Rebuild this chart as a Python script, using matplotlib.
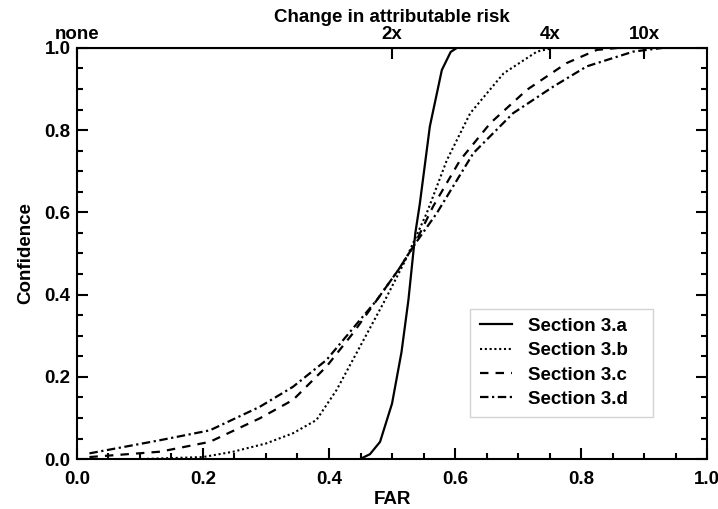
import matplotlib
matplotlib.use("Agg")
import matplotlib.pyplot as plt
from matplotlib.ticker import MultipleLocator

# ==================== DATA ====================
far_a = [0.0, 0.30, 0.449, 0.465, 0.481, 0.50, 0.515, 0.526, 0.537, 0.544, 0.560, 0.579, 0.593, 0.603, 0.65, 1.0]
conf_a = [0.0, 0.0, 0.0, 0.012, 0.042, 0.135, 0.26, 0.387, 0.55, 0.62, 0.809, 0.946, 0.99, 1.0, 1.0, 1.0]

far_b = [0.02, 0.10, 0.20, 0.248, 0.30, 0.343, 0.380, 0.412, 0.449, 0.489, 0.52, 0.555, 0.587, 0.624, 0.677, 0.730, 0.756, 0.80, 1.0]
conf_b = [0.0, 0.0, 0.005, 0.018, 0.038, 0.063, 0.095, 0.168, 0.273, 0.387, 0.48, 0.598, 0.727, 0.841, 0.938, 0.991, 1.0, 1.0, 1.0]

far_c = [0.02, 0.132, 0.211, 0.290, 0.343, 0.396, 0.438, 0.476, 0.51, 0.535, 0.565, 0.608, 0.656, 0.714, 0.777, 0.825, 0.86, 1.0]
conf_c = [0.005, 0.018, 0.042, 0.099, 0.144, 0.225, 0.306, 0.387, 0.46, 0.52, 0.614, 0.727, 0.817, 0.898, 0.963, 0.995, 1.0, 1.0]

far_d = [0.02, 0.132, 0.211, 0.290, 0.343, 0.396, 0.449, 0.476, 0.51, 0.535, 0.571, 0.629, 0.692, 0.756, 0.809, 0.883, 0.93, 1.0]
conf_d = [0.014, 0.046, 0.07, 0.127, 0.176, 0.241, 0.338, 0.387, 0.46, 0.52, 0.598, 0.744, 0.841, 0.906, 0.955, 0.991, 1.0, 1.0]

labels = ["Section 3.a", "Section 3.b", "Section 3.c", "Section 3.d"]
risk_ticks = [0.0, 0.5, 0.75, 0.9]
risk_labels = ["none", "2x", "4x", "10x"]
# ==============================================

FS = 13.5

plt.rcParams["font.family"] = ["Liberation Sans", "DejaVu Sans"]
plt.rcParams["font.weight"] = "bold"

fig = plt.figure(figsize=(7.18, 5.09), dpi=100)
ax = fig.add_axes([0.107, 0.098, 0.878, 0.808])

ax.plot(far_a, conf_a, color="black", lw=1.6, linestyle="-", label=labels[0])
ax.plot(far_b, conf_b, color="black", lw=1.5, linestyle=(0, (1, 1.3)), label=labels[1])
ax.plot(far_c, conf_c, color="black", lw=1.6, linestyle=(0, (3.8, 3.2)), label=labels[2])
ax.plot(far_d, conf_d, color="black", lw=1.6, linestyle=(0, (3.8, 1.6, 1, 1.6)), label=labels[3])

ax.set_xlim(0, 1)
ax.set_ylim(0, 1)
ax.xaxis.set_major_locator(MultipleLocator(0.2))
ax.xaxis.set_minor_locator(MultipleLocator(0.05))
ax.yaxis.set_major_locator(MultipleLocator(0.2))
ax.yaxis.set_minor_locator(MultipleLocator(0.05))
ax.xaxis.set_major_formatter(plt.FormatStrFormatter("%.1f"))
ax.yaxis.set_major_formatter(plt.FormatStrFormatter("%.1f"))
ax.tick_params(which="both", direction="in", right=True, top=False, width=1.5,
               labelsize=FS)
ax.tick_params(axis="x", which="major", pad=8.5)
ax.tick_params(axis="y", which="major", pad=4.5)
ax.tick_params(which="major", length=8)
ax.tick_params(which="minor", length=4)
for s in ax.spines.values():
    s.set_linewidth(1.5)

ax.set_xlabel("FAR", fontsize=FS, fontweight="bold", labelpad=2.5)
ax.set_ylabel("Confidence", fontsize=FS, fontweight="bold", labelpad=7)

top = ax.secondary_xaxis("top")
top.set_xticks(risk_ticks)
top.set_xticklabels(risk_labels)
top.tick_params(direction="in", length=8, width=1.5, labelsize=FS, pad=3.8)
top.set_xlabel("Change in attributable risk", fontsize=FS, fontweight="bold", labelpad=2.5)

leg = ax.legend(loc="lower left", bbox_to_anchor=(0.624, 0.102, 0.29, 0.265),
                mode="expand", fontsize=FS, frameon=True, fancybox=False,
                handlelength=1.75, labelspacing=0.38, borderpad=0.5, handletextpad=0.85,
                borderaxespad=0)
leg.get_frame().set_edgecolor("#c8c8c8")
leg.get_frame().set_linewidth(1.0)

fig.savefig("out.png", dpi=100)
